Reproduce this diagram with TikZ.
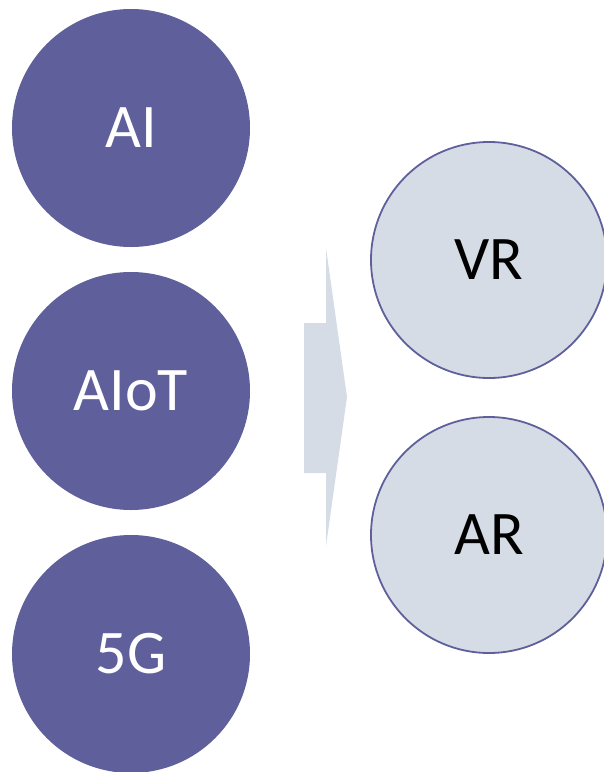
\documentclass[tikz,border=0pt]{standalone}
\usepackage{fontspec}
\setmainfont{Carlito}
\usepackage{tikz}
\usetikzlibrary{calc, positioning}
\definecolor{Micolor1}{RGB}{95,96,155}
\definecolor{Micolor2}{RGB}{214,220,229}

\begin{document}
\begin{tikzpicture}[
  x=1pt, y=-1pt,
  techcirc/.style={circle, fill=Micolor1, draw=none,
                   minimum size=238pt, inner sep=0pt,
                   text=white, font=\fontsize{62}{68}\selectfont},
  appcirc/.style={circle, fill=Micolor2, draw=Micolor1, line width=1.8pt,
                  minimum size=236pt, inner sep=0pt,
                  text=black, font=\fontsize{62}{68}\selectfont},
  flecha/.style={fill=Micolor2, draw=none}
]
\useasboundingbox (0,0) rectangle (604,772);
\clip (0,0) rectangle (604,772);

%% Tecnologias base
\node[techcirc] (ai)   at (131,128) {AI};
\node[techcirc] (aiot) at (131,391) {AIoT};
\node[techcirc] (g5)   at (131,654) {5G};

%% Flecha
\coordinate (tip) at (347,397);
\fill[flecha] (304,323) -- (326,323) -- (326,248) -- (tip)
  -- (326,546) -- (326,473) -- (304,473) -- cycle;

%% Aplicaciones
\node[appcirc] (vr) at (489,260) {VR};
\node[appcirc] (ar) at (489,535) {AR};

\end{tikzpicture}
\end{document}
